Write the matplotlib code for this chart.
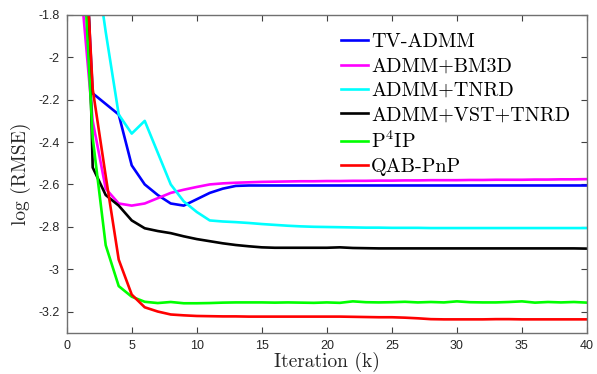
import matplotlib
matplotlib.use("Agg")
import matplotlib.pyplot as plt
from matplotlib.ticker import FuncFormatter

# iterations 1..40
iters = list(range(1, 41))

tv_admm = [-0.95, -2.17, -2.22, -2.27, -2.51, -2.60, -2.65, -2.69, -2.70, -2.67,
           -2.64, -2.62, -2.607, -2.605, -2.605] + [-2.605] * 25
admm_bm3d = [-1.60, -2.30, -2.62, -2.69, -2.70, -2.69, -2.665, -2.64, -2.625, -2.612,
             -2.60, -2.595, -2.592, -2.59, -2.588, -2.587, -2.586, -2.585, -2.585, -2.584,
             -2.584, -2.583, -2.583, -2.582, -2.582, -2.581, -2.581, -2.580, -2.580, -2.580,
             -2.579, -2.579, -2.578, -2.578, -2.578, -2.577, -2.577, -2.576, -2.576, -2.575]
admm_tnrd = [-1.20, -1.45, -1.88, -2.27, -2.36, -2.30, -2.45, -2.60, -2.68, -2.73,
             -2.77, -2.775, -2.778, -2.782, -2.787, -2.791, -2.795, -2.798, -2.800, -2.801,
             -2.802, -2.803, -2.804, -2.804, -2.805, -2.805, -2.805, -2.806, -2.806, -2.806,
             -2.806, -2.806, -2.806, -2.806, -2.806, -2.806, -2.806, -2.806, -2.806, -2.806]
admm_vst_tnrd = [-0.12, -2.52, -2.65, -2.70, -2.77, -2.807, -2.82, -2.83, -2.845, -2.858,
                 -2.868, -2.878, -2.886, -2.892, -2.897, -2.899, -2.899, -2.899, -2.899, -2.899,
                 -2.897, -2.900, -2.901, -2.902, -2.902, -2.902, -2.902, -2.902, -2.902, -2.902,
                 -2.902, -2.902, -2.902, -2.902, -2.902, -2.902, -2.902, -2.902, -2.902, -2.903]
p4ip = [-1.20, -2.38, -2.887, -3.08, -3.13, -3.154, -3.16, -3.155, -3.161, -3.161,
        -3.160, -3.158, -3.157, -3.157, -3.157, -3.158, -3.157, -3.158, -3.159, -3.157,
        -3.159, -3.152, -3.156, -3.157, -3.156, -3.154, -3.157, -3.155, -3.157, -3.152,
        -3.156, -3.157, -3.157, -3.155, -3.152, -3.158, -3.155, -3.157, -3.155, -3.158]
qab_pnp = [-0.98, -2.15, -2.56, -2.955, -3.12, -3.18, -3.20, -3.214, -3.218, -3.221,
           -3.222, -3.223, -3.223, -3.224, -3.224, -3.224, -3.224, -3.224, -3.224, -3.224,
           -3.224, -3.225, -3.226, -3.227, -3.227, -3.229, -3.232, -3.236, -3.237, -3.237,
           -3.237, -3.237, -3.236, -3.236, -3.237, -3.237, -3.237, -3.237, -3.237, -3.237]

series = [
    ("TV-ADMM", tv_admm, "#0000ff"),
    ("ADMM+BM3D", admm_bm3d, "#ff00ff"),
    ("ADMM+TNRD", admm_tnrd, "#00ffff"),
    ("ADMM+VST+TNRD", admm_vst_tnrd, "#000000"),
    (r"P$^4$IP", p4ip, "#00ff00"),
    ("QAB-PnP", qab_pnp, "#ff0000"),
]

xticks = [0, 5, 10, 15, 20, 25, 30, 35, 40]
yticks = [-3.2, -3.0, -2.8, -2.6, -2.4, -2.2, -2.0, -1.8]

plt.rcParams["mathtext.fontset"] = "cm"
plt.rcParams["axes.formatter.use_mathtext"] = True
ax_col = "#404040"

fig = plt.figure(figsize=(5.97, 3.74), dpi=100)
ax = fig.add_axes([0.1117, 0.1104, 0.8715, 0.8496])

for name, vals, col in series:
    ax.plot(iters, vals, color=col, lw=1.9, label=name)

ax.set_xlim(0, 40)
ax.set_ylim(-3.3, -1.8)
ax.set_xticks(xticks)
ax.set_yticks(yticks)
ax.xaxis.set_major_formatter(FuncFormatter(lambda v, p: f"{v:g}"))
ax.yaxis.set_major_formatter(FuncFormatter(lambda v, p: f"{v:g}".replace("\u2212", "-")))
ax.tick_params(direction="in", length=4, width=0.8, colors=ax_col,
               top=True, right=True, labelsize=9, pad=5)
for lab in ax.get_xticklabels() + ax.get_yticklabels():
    lab.set_family("Liberation Sans")
    lab.set_color("#262626")
for s in ax.spines.values():
    s.set_color("#707070")
    s.set_linewidth(1.0)

ax.set_xlabel("Iteration (k)", fontsize=14, fontfamily="cmr10", color="#262626", labelpad=0)
ax.set_ylabel("log (RMSE)", fontsize=14, fontfamily="cmr10", color="#262626", labelpad=5)

leg = ax.legend(loc="upper right", bbox_to_anchor=(0.983, 0.968), frameon=False,
                prop={"family": "cmr10", "size": 14.5}, handlelength=1.35,
                handletextpad=0.15, labelspacing=0.31, borderaxespad=0.0)

fig.savefig("out.png", dpi=100)
